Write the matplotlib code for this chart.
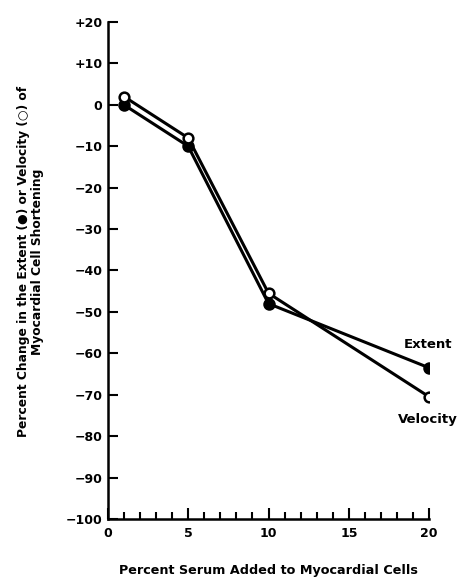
import matplotlib
matplotlib.use("Agg")
import matplotlib.pyplot as plt
from matplotlib.ticker import MultipleLocator

serum = [1, 5, 10, 20]
extent = [0, -10, -48, -63.5]
velocity = [2, -8, -45.5, -70.5]

y_ticks = list(range(-100, 30, 10))
y_labels = ["+%d" % v if v > 0 else ("0" if v == 0 else "\u2212%d" % -v) for v in y_ticks]
x_ticks = [0, 5, 10, 15, 20]

plt.rcParams['font.family'] = ['DejaVu Sans']
plt.rcParams['font.weight'] = 'bold'

fig = plt.figure(figsize=(4.59, 5.86), dpi=100)
ax = fig.add_axes([0.235, 0.1143, 0.7, 0.8482])

ax.plot(serum, extent, color='black', lw=2.2, marker='o', ms=7.5,
        mfc='black', mec='black', mew=1.5, zorder=3)
ax.plot(serum, velocity, color='black', lw=2.2, marker='o', ms=7,
        mfc='white', mec='black', mew=1.8, zorder=4)

ax.set_xlim(0, 20)
ax.set_ylim(-100, 20)
ax.set_yticks(y_ticks)
ax.set_yticklabels(y_labels, fontsize=9, fontweight='bold')
ax.set_xticks(x_ticks)
ax.set_xticklabels([str(v) for v in x_ticks], fontsize=9, fontweight='bold')
ax.xaxis.set_minor_locator(MultipleLocator(1))
ax.tick_params(axis='y', direction='in', length=7, width=1.5, pad=4)
ax.tick_params(axis='x', which='major', direction='in', length=8, width=1.5, pad=6)
ax.tick_params(axis='x', which='minor', direction='in', length=5, width=1.5)

for side in ['top', 'right']:
    ax.spines[side].set_visible(False)
for side in ['left', 'bottom']:
    ax.spines[side].set_linewidth(1.8)

ax.text(19.9, -59.5, "Extent", fontsize=9.5, fontweight='bold', ha='center', va='bottom')
ax.text(19.9, -74.5, "Velocity", fontsize=9.5, fontweight='bold', ha='center', va='top')

ax.set_ylabel("Percent Change in the Extent (\u25cf) or Velocity (\u25cb) of\nMyocardial Cell Shortening",
              fontsize=8.8, fontweight='bold', linespacing=1.1)
ax.yaxis.set_label_coords(-0.2, 0.518)
ax.set_xlabel("Percent Serum Added to Myocardial Cells", fontsize=9.2, fontweight='bold', labelpad=17)

fig.savefig("out.png", dpi=100)
